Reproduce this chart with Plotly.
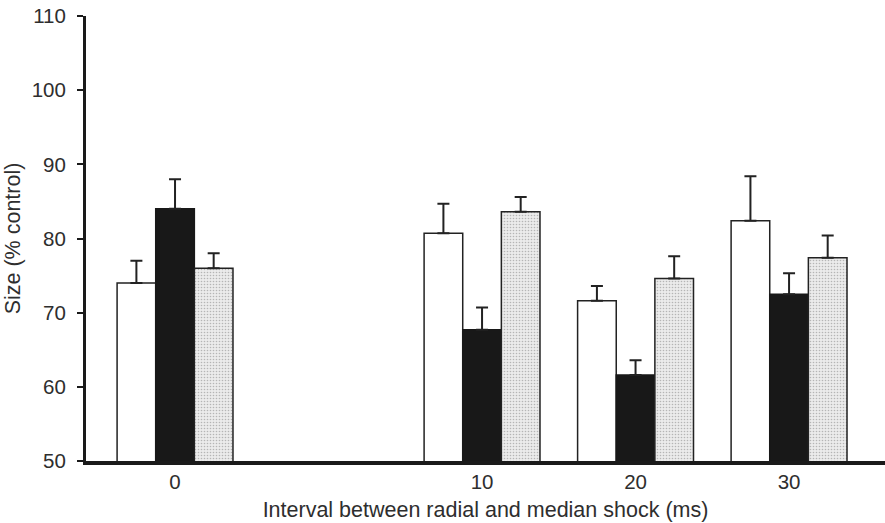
import plotly.graph_objects as go

categories = ["0", "10", "20", "30"]
axis_categories = ["0", " ", "10", "20", "30"]
series_names = ["Group A", "Group B", "Group C"]
white_vals = [74.0, 80.7, 71.6, 82.4]
white_err = [3.0, 4.0, 2.0, 6.0]
black_vals = [84.0, 67.7, 61.6, 72.5]
black_err = [4.0, 3.0, 2.0, 2.8]
dotted_vals = [76.0, 83.6, 74.6, 77.4]
dotted_err = [2.0, 2.0, 3.0, 3.0]
y_ticks = [50, 60, 70, 80, 90, 100, 110]

font = "Liberation Sans, Arial, Helvetica, sans-serif"
txt = "#2e2e2e"

def err(arr):
    return dict(type="data", array=arr, arrayminus=[0] * len(arr), symmetric=False,
                color="#222", thickness=2, width=6, visible=True)

fig = go.Figure()
fig.add_trace(go.Bar(name=series_names[0], x=categories, y=white_vals, error_y=err(white_err),
                     marker=dict(color="white", line=dict(color="#222", width=1.5))))
fig.add_trace(go.Bar(name=series_names[1], x=categories, y=black_vals, error_y=err(black_err),
                     marker=dict(color="#181818", line=dict(color="#181818", width=1.5))))
fig.add_trace(go.Bar(name=series_names[2], x=categories, y=dotted_vals, error_y=err(dotted_err),
                     marker=dict(color="#e2e2e2", line=dict(color="#222", width=1.5),
                                 pattern=dict(shape=".", fgcolor="#808080", bgcolor="#ebebeb",
                                              size=3, solidity=0.22))))

fig.update_layout(
    width=885, height=523,
    margin=dict(l=86, r=0, t=16, b=62),
    paper_bgcolor="white", plot_bgcolor="white",
    showlegend=False,
    barmode="group", bargap=0.245, bargroupgap=0,
    font=dict(family=font, color=txt, size=20),
    xaxis=dict(type="category", categoryorder="array", categoryarray=axis_categories,
               range=[-0.58, 4.625], showgrid=False, zeroline=False,
               showline=True, linecolor="#1a1a1a", linewidth=3.5,
               ticks="", tickfont=dict(size=20.5, color=txt),
               title=dict(text="Interval between radial and median shock (ms)",
                          font=dict(size=21.5, color=txt), standoff=11)),
    yaxis=dict(range=[50, 110], tickvals=y_ticks, showgrid=False, zeroline=False,
               showline=True, linecolor="#1a1a1a", linewidth=3,
               ticks="outside", ticklen=6, tickwidth=2, tickcolor="#1a1a1a",
               ticklabelstandoff=7,
               tickfont=dict(size=20.5, color=txt),
               title=dict(text="Size (% control)", font=dict(size=21.5, color=txt),
                          standoff=6)),
)

fig.write_html("out.html")
